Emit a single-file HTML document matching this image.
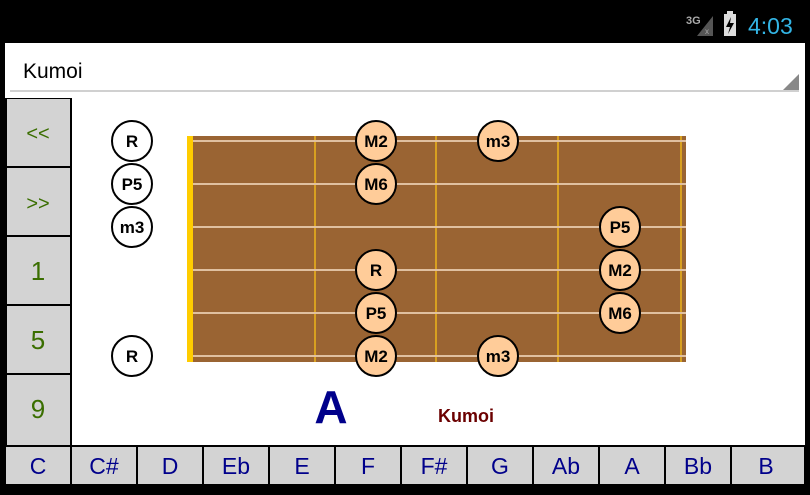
<!DOCTYPE html>
<html><head><style>
body{margin:0;width:810px;height:490px;background:#000;overflow:hidden;font-family:"Liberation Sans",sans-serif}
</style></head><body>
<svg width="810" height="490" xmlns="http://www.w3.org/2000/svg" font-family="Liberation Sans, sans-serif">
<rect width="810" height="490" fill="#000"/>
<!-- status bar -->
<text x="686" y="24" font-size="11" fill="#aaa" font-weight="bold">3G</text>
<polygon points="697,36 713,16 713,36" fill="#555"/>
<text x="705" y="34" font-size="8" fill="#aaa">x</text>
<rect x="724" y="14" width="12" height="22" fill="#ddd"/>
<rect x="727" y="11" width="6" height="3" fill="#ddd"/>
<polygon points="731,17 726,27 730,27 728,34 734,23 730,23" fill="#000"/>
<text x="748" y="34" font-size="23" fill="#33b5e5">4:03</text>
<!-- main white -->
<rect x="5" y="43" width="800" height="443" fill="#fff"/>
<text x="23" y="78" font-size="21" fill="#000">Kumoi</text>
<rect x="10" y="90" width="789" height="2" fill="#d0d0d0"/>
<polygon points="799,74 799,90 783,90" fill="#888"/>
<!-- left buttons -->
<rect x="5" y="98" width="67" height="348" fill="#000"/>
<g fill="#d3d3d3">
<rect x="7" y="99" width="63" height="67"/>
<rect x="7" y="168" width="63" height="67"/>
<rect x="7" y="237" width="63" height="67"/>
<rect x="7" y="306" width="63" height="67"/>
<rect x="7" y="375" width="63" height="70"/>
</g>
<g fill="#3a6e00" text-anchor="middle">
<text x="38" y="140" font-size="20">&lt;&lt;</text>
<text x="38" y="210" font-size="20">&gt;&gt;</text>
<text x="38" y="280" font-size="26">1</text>
<text x="38" y="349" font-size="26">5</text>
<text x="38" y="418" font-size="26">9</text>
</g>
<!-- bottom buttons -->
<rect x="5" y="445" width="800" height="41" fill="#000"/>
<g fill="#d3d3d3">
<rect x="6" y="447" width="64" height="37"/><rect x="72" y="447" width="64" height="37"/>
<rect x="138" y="447" width="64" height="37"/><rect x="204" y="447" width="64" height="37"/>
<rect x="270" y="447" width="64" height="37"/><rect x="336" y="447" width="64" height="37"/>
<rect x="402" y="447" width="64" height="37"/><rect x="468" y="447" width="64" height="37"/>
<rect x="534" y="447" width="64" height="37"/><rect x="600" y="447" width="64" height="37"/>
<rect x="666" y="447" width="64" height="37"/><rect x="732" y="447" width="72" height="37"/>
</g>
<g fill="#00008b" font-size="23" text-anchor="middle">
<text x="38" y="474">C</text><text x="104" y="474">C#</text><text x="170" y="474">D</text>
<text x="236" y="474">Eb</text><text x="302" y="474">E</text><text x="368" y="474">F</text>
<text x="434" y="474">F#</text><text x="500" y="474">G</text><text x="566" y="474">Ab</text>
<text x="632" y="474">A</text><text x="698" y="474">Bb</text><text x="766" y="474">B</text>
</g>
<!-- fretboard -->
<rect x="187" y="136" width="499" height="226" fill="#9a6433"/>
<rect x="187" y="136" width="6" height="226" fill="#ffcc00"/>
<g fill="#d8a020"><rect x="314" y="136" width="2" height="226"/><rect x="435" y="136" width="2" height="226"/><rect x="557" y="136" width="2" height="226"/><rect x="680" y="136" width="2" height="226"/></g>
<g fill="#e0c0a0">
<rect x="193" y="140" width="493" height="2"/><rect x="193" y="183" width="493" height="2"/>
<rect x="193" y="226" width="493" height="2"/><rect x="193" y="269" width="493" height="2"/>
<rect x="193" y="312" width="493" height="2"/><rect x="193" y="355" width="493" height="2"/>
</g>
<g stroke="#000" stroke-width="2">
<circle cx="132" cy="141" r="20" fill="#fff"/><circle cx="132" cy="184" r="20" fill="#fff"/>
<circle cx="132" cy="227" r="20" fill="#fff"/><circle cx="132" cy="356" r="20" fill="#fff"/>
<g fill="#ffcc99">
<circle cx="376" cy="141" r="20"/><circle cx="498" cy="141" r="20"/>
<circle cx="376" cy="184" r="20"/><circle cx="620" cy="227" r="20"/>
<circle cx="376" cy="270" r="20"/><circle cx="620" cy="270" r="20"/>
<circle cx="376" cy="313" r="20"/><circle cx="620" cy="313" r="20"/>
<circle cx="376" cy="356" r="20"/><circle cx="498" cy="356" r="20"/>
</g></g>
<g font-size="17" font-weight="bold" text-anchor="middle" fill="#000">
<text x="132" y="147">R</text><text x="132" y="190">P5</text><text x="132" y="233">m3</text><text x="132" y="362">R</text>
<text x="376" y="147">M2</text><text x="498" y="147">m3</text><text x="376" y="190">M6</text>
<text x="620" y="233">P5</text><text x="376" y="276">R</text><text x="620" y="276">M2</text>
<text x="376" y="319">P5</text><text x="620" y="319">M6</text>
<text x="376" y="362">M2</text><text x="498" y="362">m3</text>
</g>
<text x="331" y="423" font-size="46" font-weight="bold" fill="#00008b" text-anchor="middle">A</text>
<text x="466" y="422" font-size="18" font-weight="bold" fill="#6b0000" text-anchor="middle">Kumoi</text>
</svg>
</body></html>
